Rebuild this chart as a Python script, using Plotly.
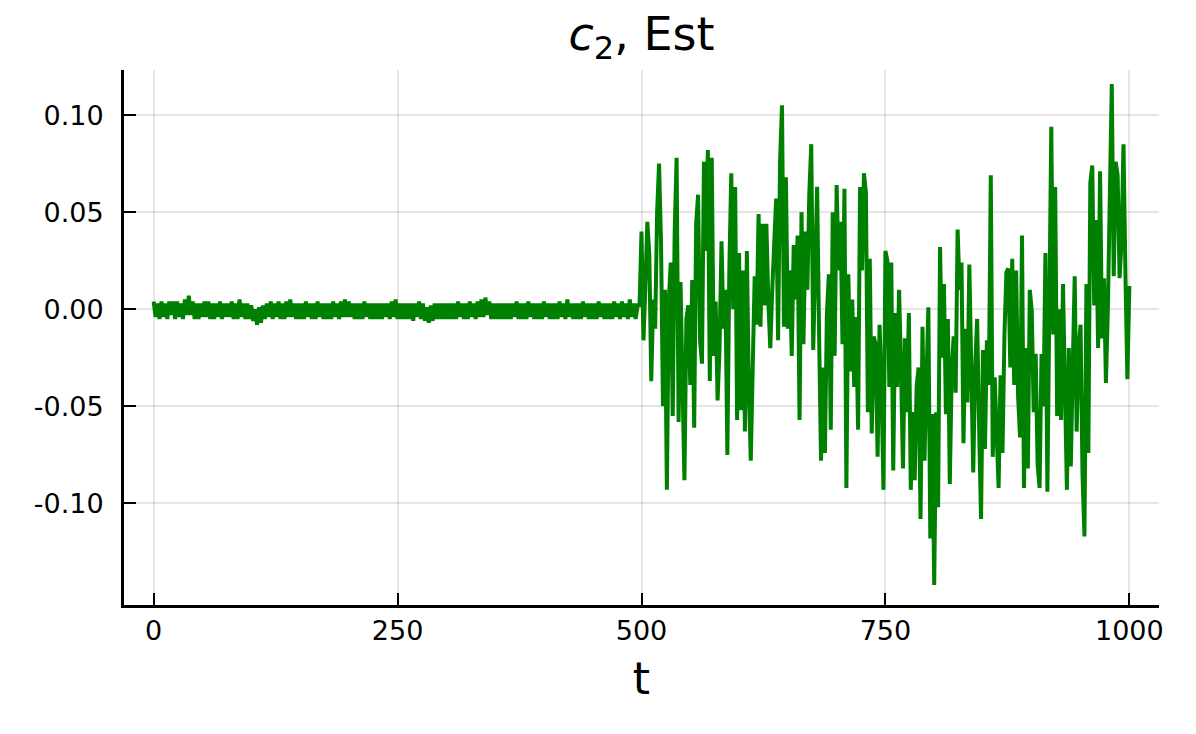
import plotly.graph_objects as go

# ---- data ----
# time step between stored points
t_step = 2

# t = 0 .. 498 : quiet regime
c2_early = [
    0.004, -0.004, 0.003, -0.005, 0.004, -0.004, 0.003, -0.005, 0.004, -0.003,
    0.004, -0.005, 0.004, -0.004, 0.003, -0.005, 0.005, -0.003, 0.007, -0.003,
    0.004, -0.005, 0.003, -0.005, 0.003, -0.004, 0.004, -0.004, 0.004, -0.005,
    0.003, -0.005, 0.003, -0.004, 0.004, -0.005, 0.003, -0.004, 0.003, -0.004,
    0.004, -0.005, 0.003, -0.005, 0.005, -0.004, 0.003, -0.005, 0.003, -0.005,
    0.002, -0.006, 0.000, -0.008, 0.001, -0.007, 0.002, -0.005, 0.003, -0.004,
    0.004, -0.005, 0.003, -0.004, 0.004, -0.005, 0.003, -0.005, 0.004, -0.004,
    0.005, -0.004, 0.003, -0.005, 0.003, -0.005, 0.003, -0.005, 0.004, -0.004,
    0.003, -0.005, 0.003, -0.005, 0.004, -0.004, 0.003, -0.005, 0.003, -0.005,
    0.003, -0.005, 0.004, -0.004, 0.003, -0.005, 0.004, -0.004, 0.005, -0.004,
    0.004, -0.004, 0.003, -0.005, 0.003, -0.005, 0.003, -0.005, 0.004, -0.004,
    0.003, -0.005, 0.003, -0.005, 0.003, -0.005, 0.003, -0.005, 0.003, -0.004,
    0.003, -0.005, 0.004, -0.004, 0.005, -0.005, 0.003, -0.005, 0.003, -0.005,
    0.003, -0.005, 0.003, -0.006, 0.003, -0.004, 0.004, -0.005, 0.003, -0.006,
    0.001, -0.007, 0.002, -0.006, 0.003, -0.005, 0.003, -0.005, 0.003, -0.005,
    0.003, -0.005, 0.003, -0.005, 0.003, -0.005, 0.004, -0.004, 0.003, -0.005,
    0.003, -0.005, 0.004, -0.004, 0.003, -0.005, 0.004, -0.004, 0.005, -0.004,
    0.006, -0.003, 0.004, -0.005, 0.003, -0.005, 0.003, -0.005, 0.003, -0.005,
    0.003, -0.005, 0.003, -0.005, 0.003, -0.004, 0.004, -0.005, 0.003, -0.005,
    0.003, -0.005, 0.004, -0.004, 0.003, -0.005, 0.003, -0.005, 0.003, -0.005,
    0.004, -0.004, 0.003, -0.005, 0.003, -0.005, 0.003, -0.005, 0.004, -0.004,
    0.003, -0.005, 0.005, -0.004, 0.003, -0.005, 0.003, -0.005, 0.003, -0.005,
    0.004, -0.004, 0.003, -0.005, 0.003, -0.005, 0.003, -0.005, 0.004, -0.004,
    0.003, -0.005, 0.003, -0.005, 0.003, -0.005, 0.004, -0.004, 0.003, -0.005,
    0.004, -0.004, 0.003, -0.005, 0.005, -0.004, 0.003, -0.005, 0.002, 0.002,
]

# t = 500 .. 662
c2_mid_a = [
    0.040, -0.016, 0.012, 0.045, 0.028, -0.037, 0.005, -0.010, 0.050, 0.075,
    0.035, -0.050, 0.010, -0.093, 0.005, 0.024, -0.055, 0.040, 0.078, -0.058,
    0.014, -0.045, -0.088, -0.005, 0.002, -0.039, 0.015, -0.061, 0.044, 0.059,
    -0.016, -0.028, 0.076, 0.030, 0.082, -0.037, 0.078, -0.024, 0.004, -0.047,
    -0.020, 0.035, -0.010, 0.010, -0.075, 0.020, 0.070, 0.000, 0.063, -0.057,
    0.029, -0.052, 0.020, -0.063, 0.030, -0.040, -0.078, -0.030, 0.017, -0.008,
    0.049, -0.009, 0.044, 0.002, 0.044, 0.004, -0.020, 0.010, 0.038, 0.057,
    -0.016, 0.076, 0.105, -0.009, 0.068, -0.010, 0.020, -0.024, 0.033, 0.005,
    0.038, -0.057,
]

# t = 664 .. 824
c2_mid_b = [
    0.050, -0.018, 0.040, 0.010, 0.060, 0.085, -0.021, 0.030, 0.063, -0.012,
    -0.078, -0.030, -0.074, -0.003, 0.018, -0.062, 0.050, -0.024, 0.064, 0.020,
    0.045, -0.018, 0.062, -0.092, 0.018, -0.032, 0.005, -0.040, -0.004, -0.062,
    0.063, 0.020, 0.070, 0.060, -0.053, 0.026, -0.064, -0.014, -0.018, -0.076,
    -0.008, -0.040, -0.093, 0.030, 0.025, -0.040, 0.024, -0.083, -0.002, -0.040,
    0.010, -0.030, -0.082, -0.015, -0.053, -0.002, -0.093, -0.053, -0.088, -0.040,
    -0.030, -0.108, -0.009, -0.078, -0.040, 0.001, -0.118, -0.054, -0.142, -0.053,
    -0.102, 0.032, -0.025, 0.013, -0.054, -0.005, -0.090, -0.030, -0.014, -0.043,
    0.041,
]

# t = 826 .. 1000
c2_late = [
    0.010, 0.024, -0.069, -0.010, -0.048, 0.023, -0.020, -0.084, -0.030, -0.005,
    -0.060, -0.108, -0.021, -0.072, -0.016, -0.039, 0.069, -0.076, -0.035, -0.060,
    -0.092, -0.034, -0.074, -0.013, 0.019, 0.021, -0.030, 0.026, -0.039, 0.020,
    -0.045, -0.066, 0.038, -0.092, -0.020, -0.082, 0.010, -0.001, -0.053, -0.023,
    -0.080, -0.092, -0.023, -0.050, 0.029, -0.094, 0.000, 0.094, -0.013, 0.063,
    -0.055, 0.000, -0.057, 0.013, -0.040, -0.093, -0.020, -0.081, -0.030, 0.017,
    -0.063, -0.020, -0.008, -0.085, -0.117, 0.013, -0.074, 0.065, 0.074, 0.002,
    0.046, -0.020, 0.071, -0.015, 0.016, -0.038, 0.000, 0.060, 0.116, 0.017,
    0.076, 0.069, 0.016, 0.035, 0.085, 0.018, -0.036, 0.012,
]

segment_starts = [0, 500, 664, 826]
segments = [c2_early, c2_mid_a, c2_mid_b, c2_late]

x_ticks = [0, 250, 500, 750, 1000]
x_tick_labels = ["0", "250", "500", "750", "1000"]
y_ticks = [-0.10, -0.05, 0.00, 0.05, 0.10]
y_tick_labels = ["-0.10", "-0.05", "0.00", "0.05", "0.10"]

t = []
c2 = []
for start, seg in zip(segment_starts, segments):
    t += [start + t_step * i for i in range(len(seg))]
    c2 += seg

FONT = "DejaVu Sans"

fig = go.Figure()
fig.add_trace(go.Scatter(
    x=t, y=c2, mode="lines",
    line=dict(color="#008000", width=4),
    showlegend=False,
))

fig.update_layout(
    width=1196, height=734,
    paper_bgcolor="white", plot_bgcolor="white",
    margin=dict(l=116, r=45, t=62, b=137, autoexpand=False),
    title=dict(
        text="<i>c</i><sub>2</sub>, Est",
        x=0.5, xanchor="center", xref="paper",
        y=0.965, yanchor="middle", yref="container",
        font=dict(family=FONT, size=46, color="black"),
    ),
    showlegend=False,
)

fig.update_xaxes(
    range=[-30.4, 1030.4],
    tickvals=x_ticks, ticktext=x_tick_labels,
    ticks="inside", ticklen=12, tickwidth=2, tickcolor="black",
    showline=True, linecolor="black", linewidth=3, mirror=False,
    showgrid=True, gridcolor="rgba(0,0,0,0.1)", gridwidth=2,
    zeroline=False,
    tickfont=dict(family=FONT, size=27, color="black"),
    ticklabelstandoff=0,
    title=dict(text="t", font=dict(family=FONT, size=44, color="black"), standoff=18),
)
fig.update_yaxes(
    range=[-0.1523, 0.1232],
    tickvals=y_ticks, ticktext=y_tick_labels,
    ticks="inside", ticklen=12, tickwidth=2, tickcolor="black",
    showline=True, linecolor="black", linewidth=3, mirror=False,
    showgrid=True, gridcolor="rgba(0,0,0,0.1)", gridwidth=2,
    zeroline=False,
    tickfont=dict(family=FONT, size=27, color="black"),
    ticklabelstandoff=12,
)

fig.write_html("out.html")
